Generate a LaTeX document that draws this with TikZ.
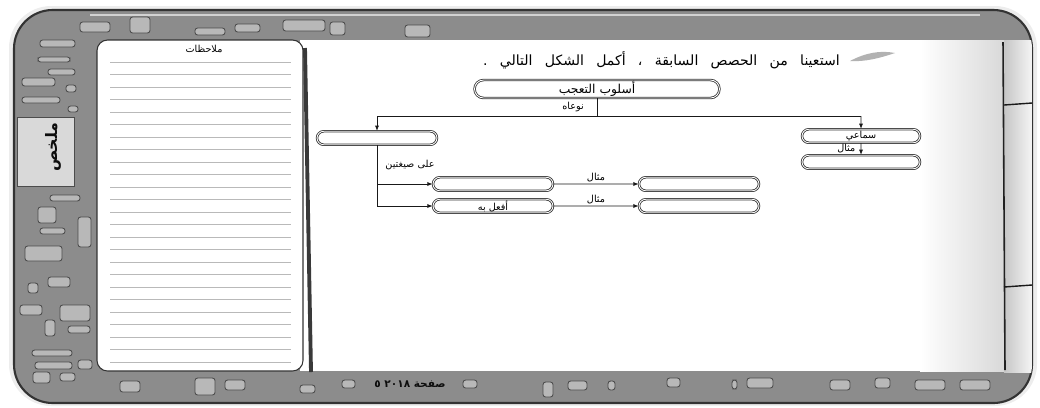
\documentclass[tikz,border=0pt]{standalone}
\usepackage{fontspec}
\newfontfamily\arabicfont[Script=Arabic]{DejaVu Sans}
\TeXXeTstate=1
\usetikzlibrary{shapes.misc,arrows.meta}
\newcommand{\arb}[1]{\arabicfont\beginR #1\endR}
\tikzset{
  chip/.style={draw=black!70,fill=black!28,rounded corners=1.5pt,line width=0.5pt},
  slot/.style={rounded rectangle,draw=gray!40!black,double=white,double distance=0.5pt,line width=0.45pt,fill=white,
    minimum height=0.27cm,minimum width=2.4cm,inner sep=0pt,font=\fontsize{5.5}{6}\selectfont},
  tag/.style={font=\fontsize{5.5}{6}\selectfont,inner sep=1pt},
  link/.style={draw=gray!20!black,line width=0.5pt},
  arr/.style={link,-{Latex[length=3pt,width=2.4pt]}}
}
\begin{document}
\begin{tikzpicture}[x=0.02cm,y=-0.02cm]
\useasboundingbox (0,0) rectangle (1040,407);
\fill[gray!14,rounded corners=24pt] (9,6) rectangle (1037,406);
\path[fill=black!45,draw=black!80,line width=1.2pt,rounded corners=22pt] (14,10) rectangle (1032,403);
\begin{scope}
\clip[rounded corners=22pt] (14,10) rectangle (1032,403);
\shade[left color=gray!45,right color=gray!8] (1004,40) rectangle (1032,372);
\end{scope}
\draw[gray!35,line width=1.2pt] (90,15) -- (980,15);
\fill[white] (300,40) rectangle (1004,371);
\shade[left color=white,right color=gray!30] (920,40) rectangle (1004,371);
\draw[gray!25!black,line width=0.9pt] (1003,42) -- (1005,370);
\draw[gray!20!black,line width=0.8pt] (1004,105) -- (1032,103);
\draw[gray!20!black,line width=0.8pt] (1004,287) -- (1032,285);
\filldraw[fill=white,draw=gray!40!black,line width=0.6pt,rounded corners=6pt] (97,40) rectangle (303,371);
\foreach \y in {62,74.5,...,362}
  \draw[gray!55,line width=0.4pt] (110,\y) -- (291,\y);
\node[tag] (notes) at (204,49) {\arb{ملاحظات}};
\draw[gray!45!black,line width=2.2pt] (305,48) -- (311,372);
\foreach \a/\b/\c/\d in {80/22/110/32,130/17/150/33,195/28/225/35,235/24/260/32,283/20/325/31,330/22/345/35,405/25/430/37,
  40/40/75/47,38/57/70/62,48/69/75/75,22/78/55/86,66/85/76/92,22/97/60/103,68/106/78/112,50/195/80/201,38/207/56/223,
  40/228/65/234,78/217/91/247,25/246/62/261,48/277/70/287,28/283/38/293,20/305/42/315,60/305/90/321,45/320/55/336,
  68/326/90/333,32/350/72/356,35/362/72/369,78/360/92/369,33/372/50/383,60/373/75/381,
  120/381/140/392,195/378/215/395,225/380/245/390,300/385/315/393,342/380/355/388,463/380/477/388,543/382/553/397,
  568/381/587/390,608/381/615/390,667/378/680/387,732/380/737/389,747/378/773/388,830/380/850/390,875/378/890/388,
  915/380/945/390,960/380/990/390}
  \draw[chip] (\a,\b) rectangle (\c,\d);
\node[draw=black!70,fill=gray!30,minimum width=1.14cm,minimum height=1.38cm,inner sep=0pt] (badge) at (46,152) {};
\node[rotate=90,font=\fontsize{9}{10}\selectfont\bfseries,text=gray!10!black] (badgeText) at (53,147) {\arb{ملخص}};
\node[font=\fontsize{6}{7}\selectfont\bfseries,text=gray!10!black] (pageno) at (410,384) {\arb{صفحة \beginL٢٠١٨\endL{} ٥}};
\fill[gray!60] (850,61) .. controls (865,53) and (880,50) .. (895,53) .. controls (880,58) and (865,62) .. (850,61) -- cycle;
\node[anchor=east,font=\fontsize{8}{9}\selectfont,inner sep=0pt] (task) at (840,60) {\arabicfont\spaceskip=7pt plus 1pt\relax\beginR استعينا من الحصص السابقة ، أكمل الشكل التالي .\endR};
\node[slot,minimum width=4.9cm,minimum height=0.36cm,font=\fontsize{7}{8}\selectfont] (style) at (597,89) {\arb{أسلوب التعجب}};
\coordinate (jM) at (597,116);
\coordinate (jL) at (377,116);
\coordinate (jR) at (861,116);
\node[slot] (qiasi) at (377,138) {};
\node[slot,minimum width=2.36cm] (samai) at (861,136) {\arb{سماعي}};
\node[slot,minimum width=2.36cm] (samaiEx) at (861,162) {};
\node[slot] (formA) at (493,184) {};
\node[slot] (formB) at (493,206) {\arb{أفعل به}};
\node[slot] (exA) at (699,184) {};
\node[slot] (exB) at (699,206) {};
\coordinate (b1) at (377,184);
\coordinate (b2) at (377,206);
\draw[link] (style.south) -- (jM);
\node[tag] (kinds) at (573,107) {\arb{نوعاه}};
\draw[link] (jL) -- (jR);
\draw[arr] (jL) -- (qiasi);
\draw[arr] (jR) -- (samai);
\draw[arr] (samai) -- (samaiEx) node[midway,left,tag,xshift=-2pt] {\arb{مثال}};
\draw[link] (qiasi) -- (b2);
\node[tag] (twoForms) at (410,165) {\arb{على صيغتين}};
\draw[arr] (b1) -- (formA);
\draw[arr] (b2) -- (formB);
\draw[arr] (formA) -- (exA) node[midway,above,tag] {\arb{مثال}};
\draw[arr] (formB) -- (exB) node[midway,above,tag] {\arb{مثال}};
\end{tikzpicture}
\end{document}
